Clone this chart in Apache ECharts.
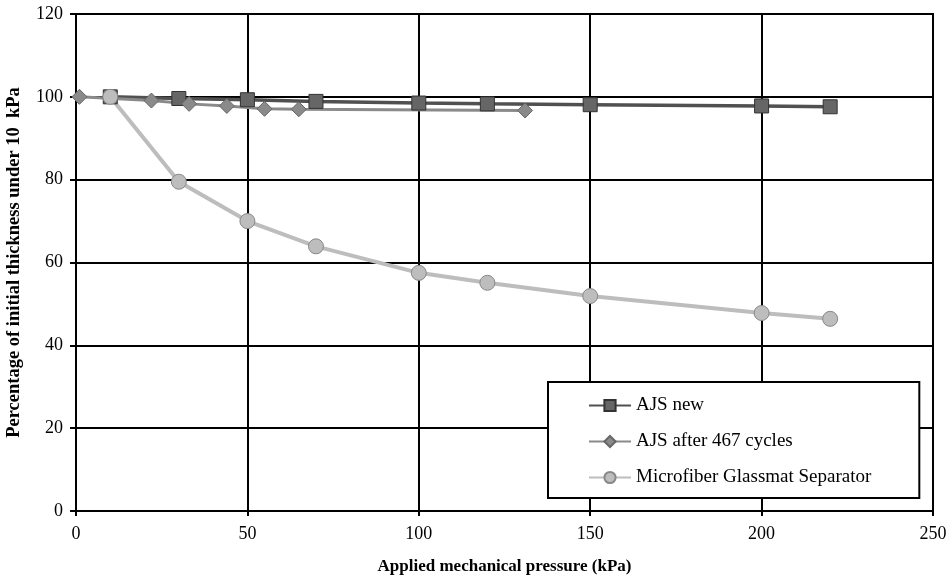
<!DOCTYPE html>
<html>
<head>
<meta charset="utf-8">
<script src="https://cdn.jsdelivr.net/npm/echarts@6/dist/echarts.min.js"></script>
<style>
  html, body { margin: 0; padding: 0; background: #fff; }
  #chart { width: 951px; height: 581px; }
</style>
</head>
<body>
<div id="chart"></div>
<script>
// Compression of separators: thickness retained vs applied pressure
const seriesNames = ['AJS new', 'AJS after 467 cycles', 'Microfiber Glassmat Separator'];

const ajsNewPressure = [10, 30, 50, 70, 100, 120, 150, 200, 220];
const ajsNewThickness = [100, 99.6, 99.3, 98.9, 98.5, 98.3, 98.1, 97.8, 97.6];

const ajsCycledPressure = [1, 22, 33, 44, 55, 65, 131];
const ajsCycledThickness = [100, 99.1, 98.3, 97.8, 97.1, 97.0, 96.7];

const glassmatPressure = [10, 30, 50, 70, 100, 120, 150, 200, 220];
const glassmatThickness = [100, 79.5, 70.0, 63.9, 57.5, 55.1, 51.9, 47.8, 46.4];

const xTicks = [0, 50, 100, 150, 200, 250];
const yTicks = [0, 20, 40, 60, 80, 100, 120];

function pairs(xs, ys) {
  return xs.map((x, i) => [x, ys[i]]);
}

const font = '"Liberation Serif", "DejaVu Serif", serif';

const chart = echarts.init(document.getElementById('chart'));
chart.setOption({
  animation: false,
  backgroundColor: '#fff',
  textStyle: { fontFamily: font },
  grid: {
    left: 76, right: 18, top: 14, bottom: 70,
    outerBoundsMode: 'none', containLabel: false,
    show: true, borderColor: '#000', borderWidth: 2
  },
  xAxis: {
    type: 'value',
    min: xTicks[0], max: xTicks[xTicks.length - 1], interval: 50,
    name: 'Applied mechanical pressure (kPa)',
    nameLocation: 'middle', nameGap: 47,
    nameTextStyle: { fontFamily: font, fontSize: 17, fontWeight: 'bold', color: '#000' },
    axisLine: { show: true, lineStyle: { color: '#000', width: 2 } },
    axisTick: { show: true, length: 5, lineStyle: { color: '#000', width: 2 } },
    axisLabel: { fontFamily: font, fontSize: 18, color: '#000', margin: 14 },
    splitLine: { show: true, lineStyle: { color: '#000', width: 2 } }
  },
  yAxis: {
    type: 'value',
    min: yTicks[0], max: yTicks[yTicks.length - 1], interval: 20,
    name: 'Percentage of initial thickness under 10  kPa',
    nameLocation: 'middle', nameGap: 52, nameRotate: 90,
    nameTextStyle: { fontFamily: font, fontSize: 18.5, fontWeight: 'bold', color: '#000' },
    axisLine: { show: true, lineStyle: { color: '#000', width: 2 } },
    axisTick: { show: true, length: 6, lineStyle: { color: '#000', width: 2 } },
    axisLabel: { fontFamily: font, fontSize: 18, color: '#000', margin: 13 },
    splitLine: { show: true, lineStyle: { color: '#000', width: 2 } }
  },
  legend: {
    orient: 'vertical',
    left: 548, top: 382,
    backgroundColor: '#fff',
    borderColor: '#000', borderWidth: 2,
    padding: [14, 48, 11, 40],
    itemWidth: 42, itemHeight: 14, itemGap: 17,
    textStyle: { fontFamily: font, fontSize: 19, color: '#000' },
    data: seriesNames
  },
  series: [
    {
      name: seriesNames[0], type: 'line',
      data: pairs(ajsNewPressure, ajsNewThickness),
      symbol: 'rect', symbolSize: 14,
      lineStyle: { color: '#505050', width: 3.5 },
      itemStyle: { color: '#666', borderColor: '#333', borderWidth: 1 }
    },
    {
      name: seriesNames[1], type: 'line',
      data: pairs(ajsCycledPressure, ajsCycledThickness),
      symbol: 'diamond', symbolSize: 15,
      lineStyle: { color: '#8a8a8a', width: 3 },
      itemStyle: { color: '#8a8a8a', borderColor: '#666', borderWidth: 1 }
    },
    {
      name: seriesNames[2], type: 'line',
      data: pairs(glassmatPressure, glassmatThickness),
      symbol: 'circle', symbolSize: 15,
      lineStyle: { color: '#bdbdbd', width: 4 },
      itemStyle: { color: '#bdbdbd', borderColor: '#888', borderWidth: 1 }
    }
  ]
});
</script>
</body>
</html>
